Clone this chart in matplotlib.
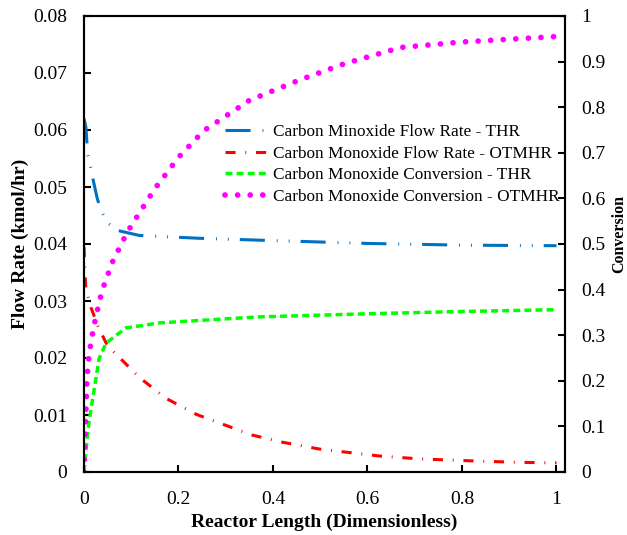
import numpy as np
import matplotlib.pyplot as plt

plt.rcParams['font.family'] = ['Liberation Serif', 'DejaVu Serif']

# reactor length (dimensionless) and read-off values
x_flow_thr = [0, 0.004, 0.008, 0.013, 0.02, 0.028, 0.036, 0.049, 0.07, 0.117, 0.245, 0.4, 0.6, 0.8, 1.0]
flow_thr = [0.0620, 0.0605, 0.0556, 0.0539, 0.0510, 0.0480, 0.0459, 0.0438, 0.0424, 0.0415, 0.0410,
            0.0406, 0.0401, 0.0398, 0.0397]

x_flow_otm = [0, 0.002, 0.004, 0.015, 0.03, 0.047, 0.064, 0.117, 0.174, 0.238, 0.355, 0.415, 0.5,
              0.626, 0.71, 0.838, 0.92, 1.0]
flow_otm = [0.0395, 0.0350, 0.0321, 0.0288, 0.0255, 0.0226, 0.0210, 0.0166, 0.0129, 0.0101, 0.0065,
            0.0053, 0.0040, 0.0028, 0.0023, 0.0019, 0.0017, 0.0016]

x_conv_thr = [0, 0.004, 0.008, 0.015, 0.032, 0.047, 0.089, 0.16, 0.366, 0.6, 0.8, 1.0]
conv_thr = [0, 0.044, 0.09, 0.139, 0.249, 0.283, 0.316, 0.327, 0.340, 0.347, 0.352, 0.356]

x_conv_otm = [0, 0.003, 0.006, 0.01, 0.015, 0.025, 0.038, 0.06, 0.091, 0.149, 0.2, 0.253, 0.35,
              0.457, 0.55, 0.67, 0.8, 0.9, 1.0]
conv_otm = [0, 0.10, 0.20, 0.25, 0.287, 0.34, 0.397, 0.46, 0.525, 0.62, 0.69, 0.748, 0.815,
            0.86, 0.895, 0.931, 0.943, 0.949, 0.955]

labels = ['Carbon Minoxide Flow Rate - THR',
          'Carbon Monoxide Flow Rate - OTMHR',
          'Carbon Monoxide Conversion - THR',
          'Carbon Monoxide Conversion - OTMHR']

xticks = [0, 0.2, 0.4, 0.6, 0.8, 1]
xtick_labels = ['0', '0.2', '0.4', '0.6', '0.8', '1']
yticks = [0, 0.01, 0.02, 0.03, 0.04, 0.05, 0.06, 0.07, 0.08]
ytick_labels = ['0', '0.01', '0.02', '0.03', '0.04', '0.05', '0.06', '0.07', '0.08']
y2ticks = [0, 0.1, 0.2, 0.3, 0.4, 0.5, 0.6, 0.7, 0.8, 0.9, 1]
y2tick_labels = ['0', '0.1', '0.2', '0.3', '0.4', '0.5', '0.6', '0.7', '0.8', '0.9', '1']

fig = plt.figure(figsize=(6.27, 5.35), dpi=100)
ax = fig.add_axes([84/627, 1-472/535, 481/627, 456/535])
ax2 = ax.twinx()

l1, = ax.plot(x_flow_thr, flow_thr, color='#0070C0', lw=2.2,
              linestyle=(0, (8.2, 3.9, 0.3, 3.6, 0.3, 3.6)))
l2, = ax.plot(x_flow_otm, flow_otm, color='#FF0000', lw=2.2,
              linestyle=(0, (3.3, 3.2, 0.3, 3.2)))
l3, = ax2.plot(x_conv_thr, conv_thr, color='#00FF00', lw=2.5,
               linestyle=(0, (2.0, 1.2)))
l4, = ax2.plot(x_conv_otm, conv_otm, color='#FF00FF', lw=4.1,
               linestyle=(0, (0.01, 2.2)), dash_capstyle='round')

ax.set_xlim(0, 1.018)
ax.set_ylim(0, 0.08)
ax2.set_ylim(0, 1)
ax.set_xticks(xticks)
ax.set_xticklabels(xtick_labels)
ax.set_yticks(yticks)
ax.set_yticklabels(ytick_labels)
ax2.set_yticks(y2ticks)
ax2.set_yticklabels(y2tick_labels)

for a in (ax, ax2):
    a.tick_params(direction='in', length=5, width=1.5, labelsize=14, pad=12)
    for s in a.spines.values():
        s.set_linewidth(1.5)
ax.tick_params(axis='x', pad=14)

ax.set_xlabel('Reactor Length (Dimensionless)', fontsize=14, fontweight='bold')
ax.xaxis.set_label_coords(0.5, -0.092)
ax.set_ylabel('Flow Rate (kmol/hr)', fontsize=14, fontweight='bold')
ax.yaxis.set_label_coords(-0.115, 0.5)
ax2.set_ylabel('Conversion', fontsize=11.5, fontweight='bold')
ax2.yaxis.set_label_coords(1.097, 0.522)

ax2.legend([l1, l2, l3, l4], labels, loc='upper left', bbox_to_anchor=((225-84)/481, (472-124)/456),
           frameon=False, fontsize=12.4, handlelength=2.5, handletextpad=0.3,
           labelspacing=0.32, borderpad=0, borderaxespad=0)

fig.savefig('out.png', dpi=100)
